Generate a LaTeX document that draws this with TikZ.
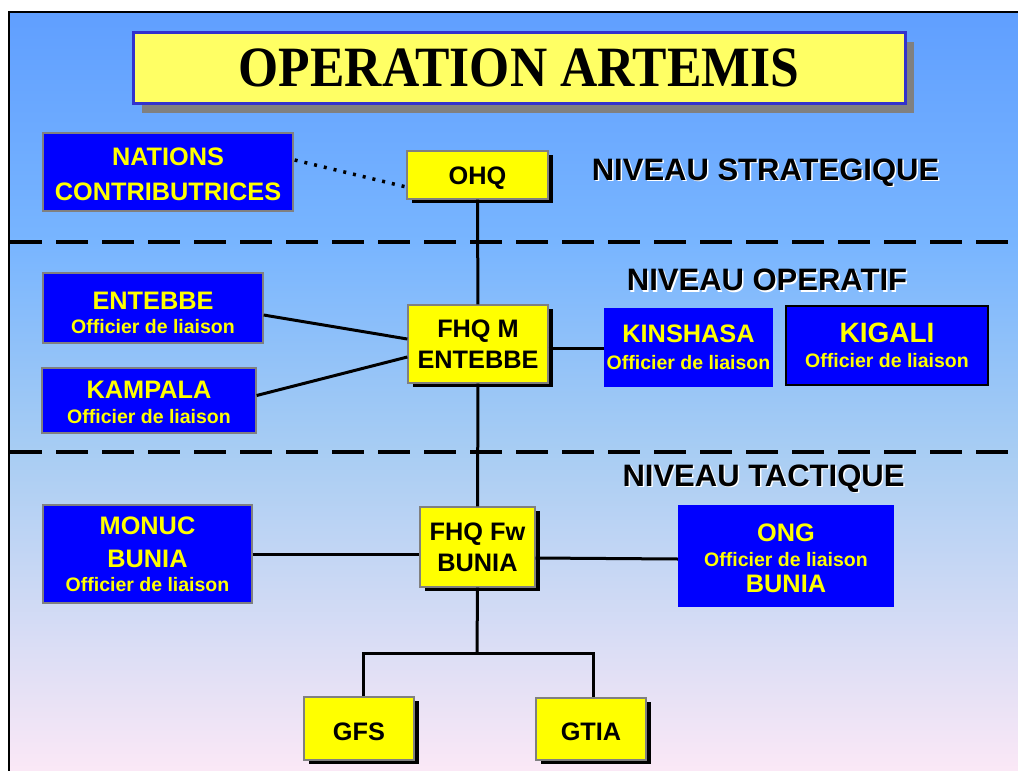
\documentclass[tikz,border=0pt]{standalone}
\usepackage{fontspec}
\usepackage{graphicx}
\setmainfont{Liberation Sans}
\newfontfamily\titlefont{Liberation Serif}
\usetikzlibrary{calc,shadows}
\definecolor{bgA}{RGB}{96,159,255}
\definecolor{bgB}{RGB}{120,181,255}
\definecolor{bgC}{RGB}{168,205,243}
\definecolor{bgD}{RGB}{251,232,246}
\definecolor{ttlfill}{RGB}{255,255,100}
\definecolor{ttlborder}{RGB}{50,50,205}
\definecolor{boxgray}{RGB}{128,128,128}
\definecolor{bluefill}{RGB}{0,0,255}
\definecolor{yel}{RGB}{255,255,0}
\newcommand\dnstrut[1]{\rule{0pt}{#1}}
\begin{document}
\begin{tikzpicture}[x=1pt,y=-1pt,
  titlebox/.style={draw=ttlborder, line width=3pt, fill=ttlfill, inner sep=0pt,
    minimum width=772pt, minimum height=71pt,
    drop shadow={shadow xshift=9pt, shadow yshift=-10pt, fill=boxgray, opacity=1},
    font=\titlefont\bfseries\fontsize{57}{60}\selectfont},
  yelbox/.style={draw=boxgray, line width=1.3pt, fill=yel, inner sep=0pt, align=center,
    drop shadow={shadow xshift=4.5pt, shadow yshift=-4pt, fill=black, opacity=1},
    font=\bfseries\fontsize{25.3}{31}\selectfont},
  bluebox/.style={fill=bluefill, inner sep=0pt, align=center, text=yel,
    font=\bfseries\fontsize{25.3}{24}\selectfont},
  grayedge/.style={draw=boxgray, line width=1.3pt},
  niveau/.style={font=\bfseries\fontsize{31}{31}\selectfont, inner sep=0pt},
  link/.style={line width=3pt, black},
  sep/.style={line width=4pt, black, dash pattern=on 32pt off 14pt}
]
\useasboundingbox (0,0) rectangle (1018,771);
% background
\fill[white] (0,0) rectangle (1018,771);
\shade[top color=bgA, bottom color=bgB] (9,12) rectangle (1018,242);
\shade[top color=bgB, bottom color=bgC] (9,242) rectangle (1018,452);
\shade[top color=bgC, bottom color=bgD] (9,452) rectangle (1018,771);
\draw[line width=2.2pt] (9,775) -- (9,12) -- (1022,12);

% separators
\coordinate (s1a) at (10,242); \coordinate (s1b) at (1018,242);
\coordinate (s2a) at (10,452); \coordinate (s2b) at (1018,452);
\draw[sep] (s1a) -- (s1b);
\draw[sep] (s2a) -- (s2b);

% title
\node[titlebox] (title) at (519,67.5) {\scalebox{0.905}[1]{OPERATION ARTEMIS}};

% level labels
\node[niveau, text=white] at (767,174) {NIVEAU STRATEGIQUE};
\node[niveau] (nstrat) at (765.5,172.5) {NIVEAU STRATEGIQUE};
\node[niveau, text=white] at (768.5,281.5) {NIVEAU OPERATIF};
\node[niveau] (nop) at (767,280) {NIVEAU OPERATIF};
\node[niveau, text=white] at (765,480) {NIVEAU TACTIQUE};
\node[niveau] (ntac) at (763.5,478.5) {NIVEAU TACTIQUE};

% yellow boxes
\node[yelbox, minimum width=141pt, minimum height=48pt] (ohq) at (477.5,175) {\dnstrut{24pt}OHQ};
\node[yelbox, minimum width=140pt, minimum height=78pt] (fhqm) at (478,344) {FHQ M\\ENTEBBE};
\node[yelbox, minimum width=115pt, minimum height=80pt] (fhqfw) at (477.5,547) {FHQ Fw\\BUNIA};
\node[yelbox, minimum width=110pt, minimum height=63pt] (gfs) at (359,728.5) {\dnstrut{24pt}GFS};
\node[yelbox, minimum width=110pt, minimum height=62pt] (gtia) at (591,729) {\dnstrut{24pt}GTIA};

% blue boxes
\node[bluebox, grayedge, minimum width=250pt, minimum height=78pt] (nations) at (168,172)
  {\dnstrut{23pt}NATIONS\\[11pt]CONTRIBUTRICES};
\node[bluebox, grayedge, minimum width=220pt, minimum height=70pt] (entebbe) at (153,308)
  {\dnstrut{28pt}ENTEBBE\\{\fontsize{19.5}{24}\selectfont Officier de liaison}};
\node[bluebox, grayedge, minimum width=214pt, minimum height=65pt] (kampala) at (149,400.5)
  {\dnstrut{22pt}KAMPALA\\[1pt]{\fontsize{19.5}{24}\selectfont Officier de liaison}};
\node[bluebox, minimum width=169pt, minimum height=79pt] (kinshasa) at (688.5,347.5)
  {KINSHASA\\[3pt]{\fontsize{19.5}{24}\selectfont Officier de liaison}};
\node[bluebox, draw=black, line width=1.3pt, minimum width=202pt, minimum height=79pt] (kigali) at (887,345.5)
  {{\fontsize{28}{24}\selectfont KIGALI}\\[1pt]{\fontsize{19.5}{24}\selectfont Officier de liaison}};
\node[bluebox, grayedge, minimum width=209pt, minimum height=98pt] (monuc) at (147.5,554)
  {MONUC\\[9pt]BUNIA\\{\fontsize{19.5}{24}\selectfont Officier de liaison}};
\node[bluebox, minimum width=216pt, minimum height=102pt] (ong) at (786,556)
  {\dnstrut{22pt}ONG\\[1pt]{\fontsize{19.5}{24}\selectfont Officier de liaison}\\[2pt]BUNIA};

% connectors
\draw[line width=3.5pt, dash pattern=on 3pt off 7pt] ($(nations.east)+(1,-12)$) -- ($(ohq.west)+(0,12)$);
\draw[link] (ohq) -- (fhqm);
\draw[link] (fhqm) -- (fhqfw);
\draw[link] ($(entebbe.east)+(0,7)$) -- ($(fhqm.west)+(0,-5)$);
\draw[link] ($(kampala.east)+(0,-5)$) -- ($(fhqm.west)+(0,13)$);
\draw[link] ($(fhqm.east)+(0,4)$) -- ($(kinshasa.west)+(0,0.5)$);
\draw[link] (monuc.east) -- (monuc.east -| fhqfw.west);
\draw[link] ($(fhqfw.east)+(0,11)$) -- ($(ong.west)+(0,3)$);
\coordinate (jn) at (477,653);
\coordinate (gfstop) at ($(gfs.north)+(4,0)$);
\coordinate (gtiatop) at ($(gtia.north)+(2,0)$);
\draw[link] (fhqfw.south) -- (jn);
\draw[link] (gfstop) |- (jn) -| (gtiatop);
\end{tikzpicture}
\end{document}
